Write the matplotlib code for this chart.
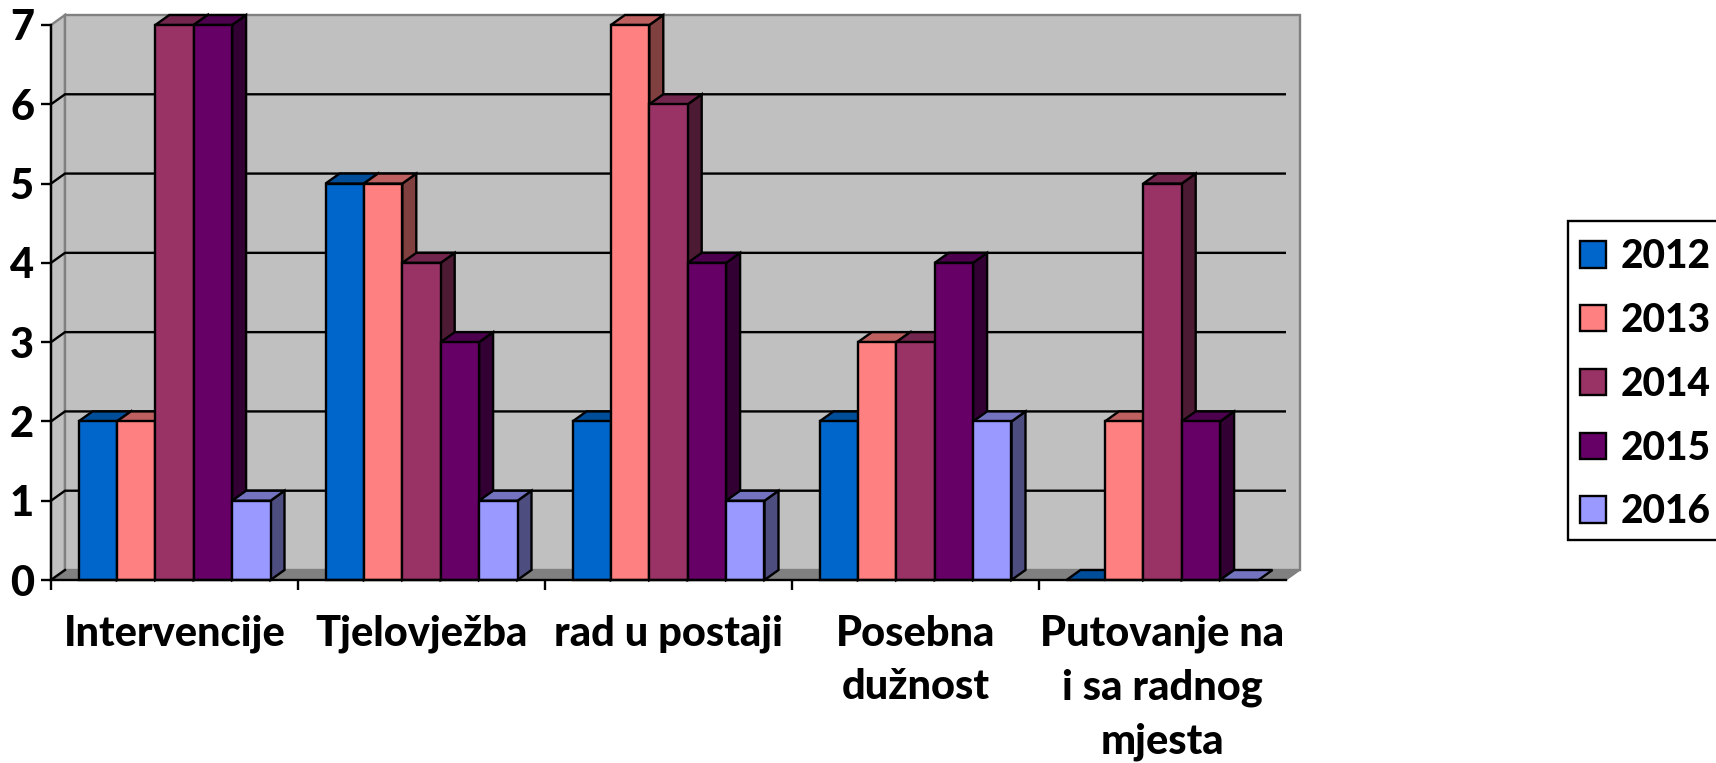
import matplotlib
matplotlib.use("Agg")
import matplotlib.pyplot as plt
from matplotlib.patches import Patch, Rectangle
from matplotlib.colors import to_rgb

categories = ["Intervencije", "Tjelovježba", "rad u postaji", "Posebna\ndužnost", "Putovanje na\ni sa radnog\nmjesta"]
years = ["2012", "2013", "2014", "2015", "2016"]
v2012 = [2, 5, 2, 2, 0]
v2013 = [2, 5, 7, 3, 2]
v2014 = [7, 4, 6, 3, 5]
v2015 = [7, 3, 4, 4, 2]
v2016 = [1, 1, 1, 2, 0]
series = [v2012, v2013, v2014, v2015, v2016]
colors = ["#0066CC", "#FF8080", "#993366", "#660066", "#9999FF"]

W, H = 1716, 763
L, R, T, B = 51, 1286, 25, 580
plt.rcParams["font.family"] = ["Lato", "DejaVu Sans"]
plt.rcParams["font.weight"] = "black"
fig = plt.figure(figsize=(W / 100, H / 100), dpi=100, facecolor="white")
ax = fig.add_axes([L / W, 1 - B / H, (R - L) / W, (B - T) / H])
ax.set_xlim(0, len(categories))
ax.set_ylim(0, 7)
ax.set_facecolor("none")

DX = 14 / ((R - L) / 5)
DY = 10 / ((B - T) / 7)
LW = 1.7
n = len(categories)
top = 7

# walls and floor
ax.fill([0, DX, DX, 0], [0, DY, top + DY, top], fc="#C0C0C0", ec="#808080", lw=LW, clip_on=False, zorder=1)
ax.fill([DX, n + DX, n + DX, DX], [DY, DY, top + DY, top + DY], fc="#C0C0C0", ec="#808080", lw=LW, clip_on=False, zorder=1)
ax.fill([0, n, n + DX, DX], [0, 0, DY, DY], fc="#808080", ec="#808080", lw=1, clip_on=False, zorder=1.5)
for g in range(1, top):
    ax.plot([0, DX, n + DX - 0.005], [g, g + DY, g + DY], color="black", lw=LW, zorder=2, solid_joinstyle="miter")
ax.plot([0, DX], [0, DY], color="black", lw=LW, zorder=2)
ax.plot([n, n + DX], [0, DY], color="black", lw=LW, zorder=2)

def shade(c, f):
    return tuple(x * f for x in to_rgb(c))

bw = 38.4 / ((R - L) / 5)
off = 27.5 / ((R - L) / 5)
z = 3
for i in range(n):
    for j, (vals, c) in enumerate(zip(series, colors)):
        x0 = i + off + j * bw
        x1 = x0 + bw
        v = vals[i]
        if v > 0:
            ax.fill([x1, x1 + DX, x1 + DX, x1], [0, DY, v + DY, v], fc=shade(c, 0.5), ec="black", lw=LW, clip_on=False, zorder=z)
        ax.fill([x0, x1, x1 + DX, x0 + DX], [v, v, v + DY, v + DY], fc=shade(c, 0.75), ec="black", lw=LW, clip_on=False, zorder=z + 0.1)
        if v > 0:
            ax.bar(x0, v, width=bw, align="edge", color=c, edgecolor="black", linewidth=LW, clip_on=False, zorder=z + 0.2)
        z += 1

for s in ("top", "right"):
    ax.spines[s].set_visible(False)
for s in ("left", "bottom"):
    ax.spines[s].set_linewidth(LW)
    ax.spines[s].set_zorder(200)

ax.set_yticks(range(0, 8))
ax.tick_params(axis="y", length=7.2, width=LW, pad=5, labelsize=30)
ax.set_xticks(range(0, n))
ax.set_xticklabels([""] * n)
ax.tick_params(axis="x", which="major", length=7.2, width=LW)
ax.set_xticks([i + 0.5 for i in range(n)], minor=True)
ax.set_xticklabels(categories, minor=True, fontsize=30, linespacing=1.5, va="top")
ax.tick_params(axis="x", which="minor", length=0, pad=25)

fig.add_artist(Rectangle((1568 / W, 1 - 540 / H), 170 / W, 319 / H, transform=fig.transFigure,
                         fc="white", ec="black", lw=LW, clip_on=False))
handles = [Patch(facecolor=c, edgecolor="black", linewidth=LW, label=y) for c, y in zip(colors, years)]
leg = fig.legend(handles=handles, loc="upper left", bbox_to_anchor=(1580 / W, 1 - 238 / H),
                 bbox_transform=fig.transFigure, fontsize=28, frameon=False,
                 borderaxespad=0, borderpad=0,
                 handlelength=0.67, handleheight=0.67, handletextpad=0.37, labelspacing=0.69)
leg.set_zorder(10)

fig.savefig("out.png", dpi=100)
